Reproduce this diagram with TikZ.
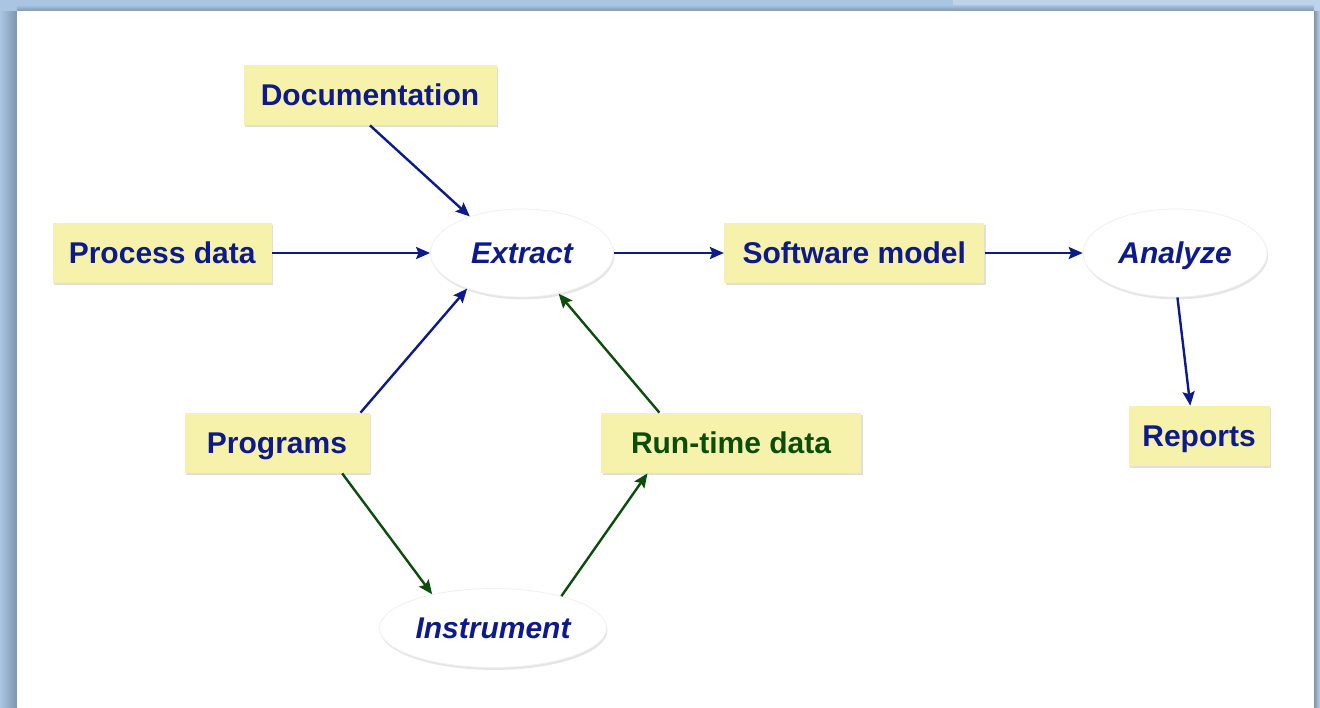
\documentclass[tikz,border=0pt]{standalone}
\usepackage{fontspec}
\setmainfont{Liberation Sans}
\usetikzlibrary{arrows.meta, positioning, shapes.geometric, shadows}

\definecolor{inkblue}{HTML}{0D1A8C}
\definecolor{rungreen}{HTML}{0B4D0B}
\definecolor{notepad}{HTML}{F7F2AB}
\definecolor{slideblue}{HTML}{A9C5E2}
\definecolor{slidelight}{HTML}{BDD3E9}
\definecolor{slidedark}{HTML}{7F95AE}

\begin{document}
\begin{tikzpicture}[
        x=0.5pt, y=-0.5pt,
        font=\fontsize{15}{18}\selectfont\bfseries,
        item/.style={rectangle, fill=notepad, text=inkblue, inner xsep=6pt, text depth=0pt, minimum height=30pt, drop shadow={opacity=0.25, shadow xshift=0.8pt, shadow yshift=-1pt}},
        task/.style={ellipse, fill=white, draw=black!6, text=inkblue, font=\fontsize{15}{18}\selectfont\bfseries\itshape, inner sep=0pt, text depth=0pt, drop shadow={opacity=0.2, shadow xshift=0.5pt, shadow yshift=-1.2pt}},
        flow/.style={-{Stealth[length=7pt, width=6pt, inset=1.2pt]}, line width=1.2pt, draw=inkblue},
        runflow/.style={flow, draw=rungreen}
    ]
        \useasboundingbox (0,0) rectangle (1320,707);
        % slide frame
        \fill[slideblue] (0,0) rectangle (1320,707);
        \fill[slidelight] (953,0) rectangle (1320,11);
        \shade[left color=slideblue, right color=slidedark] (0,11) rectangle (17,707);
        \shade[top color=slideblue, bottom color=slidedark] (17,5) rectangle (1314,11);
        \shade[left color=slidedark, right color=slidelight] (1314,11) rectangle (1320,707);
        \fill[white] (17,11) rectangle (1314,707);

        \node[task, minimum width=91.5pt, minimum height=44pt] (extract) at (522,253) {Extract};
        \node[item, minimum width=109.5pt, left=79pt of extract] (procdata) {Process data};
        \node[item, minimum width=126.5pt] (docs) at (370,95) {Documentation};
        \node[item, minimum width=130pt, right=55pt of extract] (model) {Software model};
        \node[task, minimum width=92pt, minimum height=44pt, right=49pt of model] (analyze) {Analyze};
        \node[item, minimum width=70.5pt] (reports) at (1199,436) {Reports};
        \node[item, minimum width=92.5pt] (programs) at (277,443) {Programs};
        \node[item, minimum width=130pt, text=rungreen] (rtdata) at (731,443) {Run-time data};
        \node[task, minimum width=113.5pt, minimum height=39.5pt] (instrument) at (493,628) {Instrument};

        \draw[flow] (docs.south) -- (extract.145);
        \draw[flow] (procdata) -- (extract);
        \draw[flow] (programs.20) -- (extract.213);
        \draw[runflow] (rtdata.157) -- (extract.-48);
        \draw[flow] (extract) -- (model);
        \draw[flow] (model) -- (analyze);
        \draw[flow] (analyze.-87) -- (reports.106);
        \draw[runflow] (programs.-25) -- (instrument.151);
        \draw[runflow] (instrument.25) -- (rtdata.200);
    \end{tikzpicture}
\end{document}
